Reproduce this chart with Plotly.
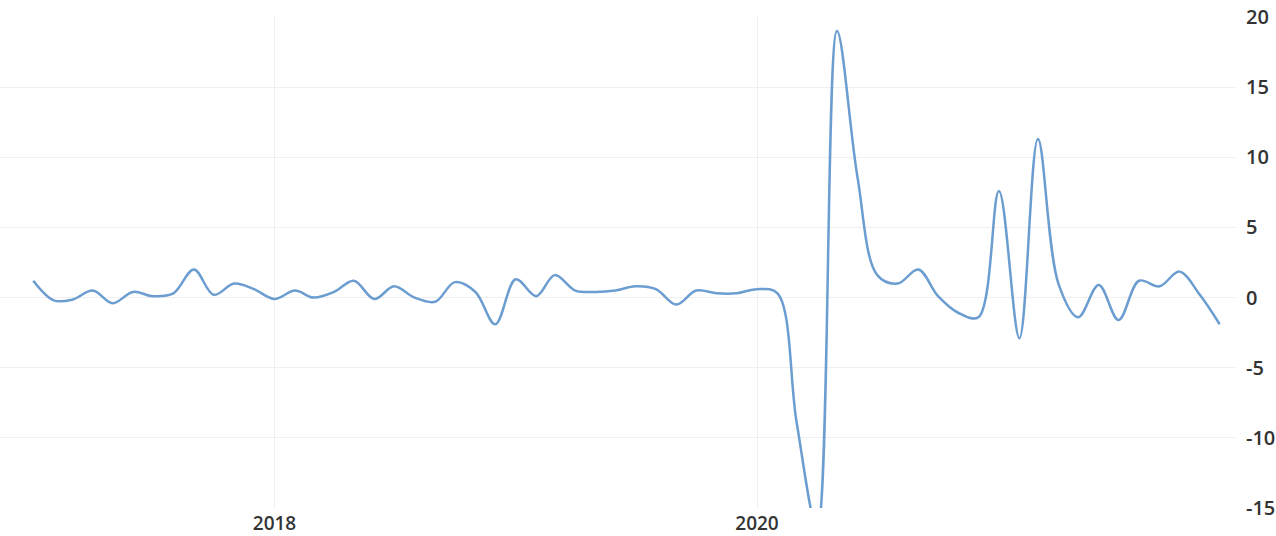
import plotly.graph_objects as go
import pandas as pd

# Monthly values, Jan 2017 - Dec 2021
months = pd.date_range("2017-01-01", "2021-12-01", freq="MS")
values_2017 = [1.2, -0.2, -0.15, 0.5, -0.4, 0.4, 0.1, 0.3, 2.0, 0.2, 1.0, 0.6]
values_2018 = [-0.1, 0.5, 0.0, 0.4, 1.2, -0.1, 0.8, 0.0, -0.3, 1.1, 0.4, -1.9]
values_2019 = [1.3, 0.1, 1.6, 0.5, 0.4, 0.5, 0.8, 0.6, -0.5, 0.5, 0.3, 0.3]
values_2020 = [0.6, 0.3, -8.9, -16.4, 19.0, 8.6, 1.6, 1.0, 2.0, 0.1, -1.1, -1.4]
values_2021 = [7.6, -2.9, 11.3, 1.0, -1.4, 0.9, -1.6, 1.2, 0.8, 1.85, 0.2, -1.9]
values = values_2017 + values_2018 + values_2019 + values_2020 + values_2021

y_ticks = [-15, -10, -5, 0, 5, 10, 15, 20]

W, H = 1276, 536
plot_left, plot_right = 0, 1236
x2018_px, x2020_px = 274.5, 757.0
t2018 = pd.Timestamp("2018-01-01")
t2020 = pd.Timestamp("2020-01-01")
ppd = (x2020_px - x2018_px) / (t2020 - t2018).days
x_start = t2018 - pd.Timedelta(days=(x2018_px - plot_left) / ppd)
x_end = t2020 + pd.Timedelta(days=(plot_right - x2020_px) / ppd)

fig = go.Figure(
    go.Scatter(
        x=months,
        y=values,
        mode="lines",
        line=dict(color="#6b9dd0", width=2.5, shape="spline", smoothing=1),
        hoverinfo="skip",
    )
)

grid = "#efefef"
fig.update_layout(
    width=W,
    height=H,
    margin=dict(l=plot_left, r=W - plot_right, t=17, b=28, pad=0),
    paper_bgcolor="white",
    plot_bgcolor="white",
    showlegend=False,
    font=dict(family="Open Sans, sans-serif", size=19, color="#333333", weight=600),
    xaxis=dict(
        type="date",
        range=[x_start, x_end],
        tick0="2018-01-01",
        dtick="M24",
        tickformat="%Y",
        showgrid=True,
        gridcolor=grid,
        gridwidth=1,
        zeroline=False,
        showline=False,
        ticks="",
        automargin=False,
        ticklabelstandoff=2,
        fixedrange=True,
    ),
    yaxis=dict(
        side="right",
        range=[-15, 20],
        tickvals=y_ticks,
        ticktext=[str(v) for v in y_ticks],
        tickfont=dict(size=20),
        showgrid=True,
        gridcolor=grid,
        gridwidth=1,
        zeroline=False,
        showline=False,
        ticks="",
        automargin=False,
        ticklabelstandoff=9,
        fixedrange=True,
    ),
)

fig.write_html(
    "out.html",
    config={"displayModeBar": False, "staticPlot": True},
    post_script="document.body.style.margin='0';document.body.style.overflow='hidden';",
)
